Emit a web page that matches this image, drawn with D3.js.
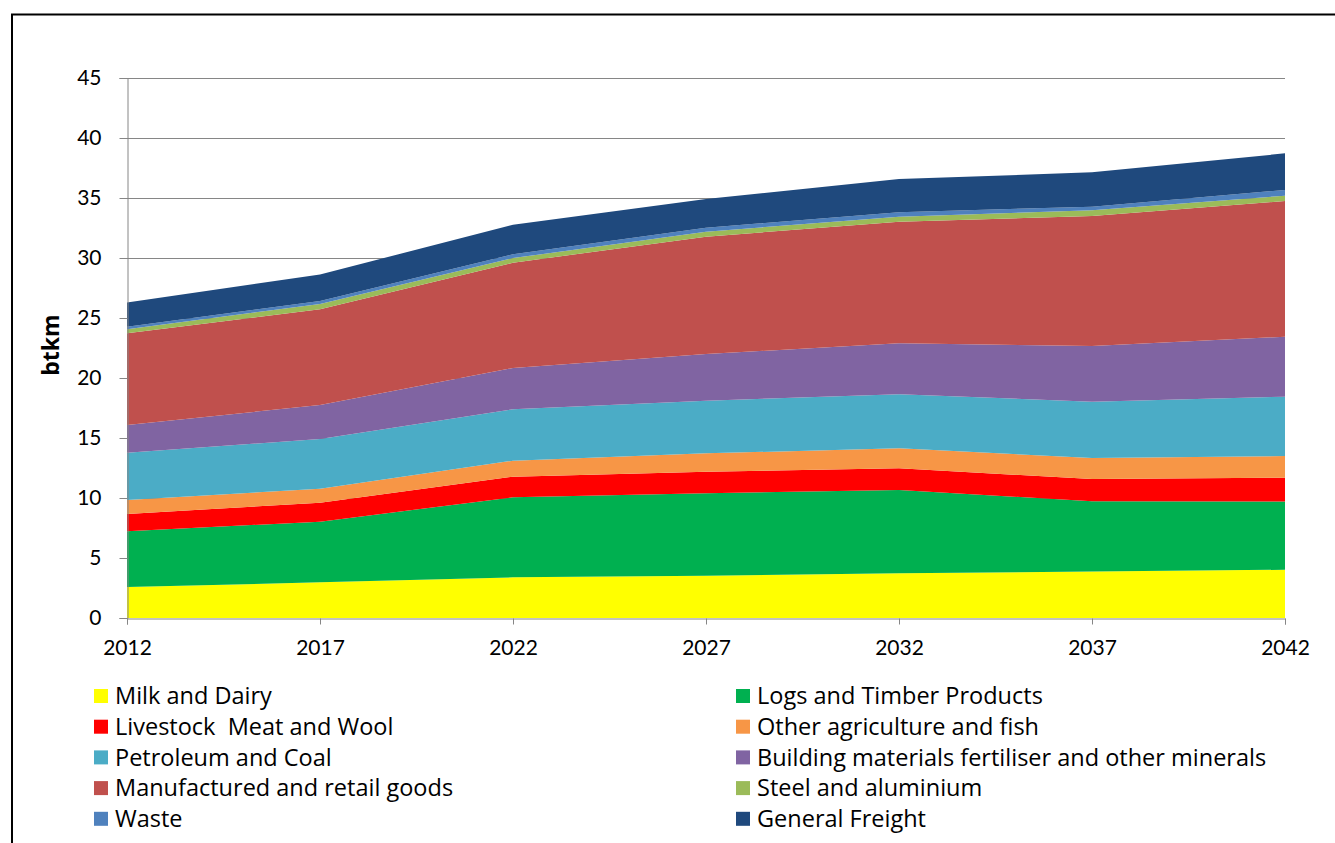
<!DOCTYPE html>
<html>
<head>
<meta charset="utf-8">
<script src="https://cdn.jsdelivr.net/npm/d3@7"></script>
<style>
  html, body { margin: 0; padding: 0; background: #fff; }
  svg { display: block; font-family: Lato, "Open Sans", sans-serif; }
</style>
</head>
<body>
<svg id="chart" width="1335" height="843"></svg>
<script>
// Freight task by commodity, billion tonne-km
const years = [2012, 2017, 2022, 2027, 2032, 2037, 2042];
const yTicks = [0, 5, 10, 15, 20, 25, 30, 35, 40, 45];

const seriesNames = [
  "Milk and Dairy",
  "Logs and Timber Products",
  "Livestock  Meat and Wool",
  "Other agriculture and fish",
  "Petroleum and Coal",
  "Building materials fertiliser and other minerals",
  "Manufactured and retail goods",
  "Steel and aluminium",
  "Waste",
  "General Freight"
];

const milkDairy     = [2.58, 2.97, 3.39, 3.53, 3.72, 3.88, 4.02];
const logsTimber    = [4.64, 5.06, 6.67, 6.86, 6.95, 5.84, 5.69];
const livestock     = [1.45, 1.58, 1.72, 1.80, 1.80, 1.86, 1.98];
const otherAgri     = [1.16, 1.17, 1.33, 1.53, 1.67, 1.75, 1.81];
const petroleumCoal = [3.95, 4.14, 4.28, 4.39, 4.50, 4.70, 4.94];
const buildingMat   = [2.30, 2.83, 3.44, 3.89, 4.25, 4.64, 5.00];
const manufactured  = [7.64, 7.97, 8.78, 9.78, 10.14, 10.83, 11.31];
const steelAlum     = [0.34, 0.45, 0.38, 0.41, 0.41, 0.48, 0.44];
const waste         = [0.22, 0.24, 0.32, 0.34, 0.37, 0.30, 0.48];
const generalFreight= [2.02, 2.21, 2.47, 2.39, 2.77, 2.86, 3.05];

const seriesValues = [milkDairy, logsTimber, livestock, otherAgri, petroleumCoal,
                      buildingMat, manufactured, steelAlum, waste, generalFreight];

const colors = ["#FFFF00", "#00B050", "#FF0000", "#F79646", "#4BACC6",
                "#8064A2", "#C0504D", "#9BBB59", "#4F81BD", "#1F497D"];

// rows for d3.stack
const table = years.map((yr, i) => {
  const row = { year: yr };
  seriesNames.forEach((n, k) => { row[n] = seriesValues[k][i]; });
  return row;
});

const svg = d3.select("#chart");

// outer frame
svg.append("rect")
  .attr("x", 12).attr("y", 14.5)
  .attr("width", 1400).attr("height", 900)
  .attr("fill", "none").attr("stroke", "#000").attr("stroke-width", 2);

const plot = { left: 127, right: 1285, top: 78, bottom: 618 };

const x = d3.scaleLinear().domain([2012, 2042]).range([plot.left, plot.right]);
const y = d3.scaleLinear().domain([0, 45]).range([plot.bottom, plot.top]);

// gridlines
svg.append("g")
  .selectAll("line")
  .data(yTicks.filter(t => t > 0))
  .join("line")
  .attr("x1", plot.left).attr("x2", plot.right)
  .attr("y1", d => Math.round(y(d)) + 0.5).attr("y2", d => Math.round(y(d)) + 0.5)
  .attr("stroke", "#868686").attr("stroke-width", 1);

// stacked areas
const stack = d3.stack().keys(seriesNames);
const layers = stack(table);

const area = d3.area()
  .x(d => x(d.data.year))
  .y0(d => y(d[0]))
  .y1(d => y(d[1]));

svg.append("g")
  .selectAll("path")
  .data(layers)
  .join("path")
  .attr("d", area)
  .attr("fill", (d, i) => colors[i]);

// y axis
const yAxis = d3.axisLeft(y).tickValues(yTicks).tickSize(8).tickPadding(18);
const gy = svg.append("g")
  .attr("transform", `translate(${plot.left + 0.5},0)`)
  .call(yAxis);
gy.select(".domain").attr("stroke", "#868686");
gy.selectAll(".tick line").attr("stroke", "#868686");
gy.selectAll(".tick text")
  .attr("font-size", 21).attr("fill", "#000")
  .attr("font-family", "Lato, sans-serif");

// x axis
const xAxis = d3.axisBottom(x).tickValues(years).tickFormat(d3.format("d")).tickSize(6).tickPadding(16);
const gx = svg.append("g")
  .attr("transform", `translate(0,${plot.bottom + 0.5})`)
  .call(xAxis);
gx.select(".domain").attr("stroke", "#868686");
gx.selectAll(".tick line").attr("stroke", "#868686");
gx.selectAll(".tick text")
  .attr("font-size", 21).attr("fill", "#000")
  .attr("font-family", "Lato, sans-serif");

// y axis title
svg.append("text")
  .attr("transform", `translate(59,${(plot.top + plot.bottom) / 2 - 3}) rotate(-90)`)
  .attr("text-anchor", "middle")
  .attr("font-family", "'Open Sans', sans-serif")
  .attr("font-size", 23).attr("font-weight", "bold")
  .text("btkm");

// legend: two columns, row-major order
const legendCols = [94, 736];
const legendRow0 = 696, legendRowStep = 30.7;
const legend = svg.append("g")
  .selectAll("g")
  .data(seriesNames)
  .join("g")
  .attr("transform", (d, i) =>
    `translate(${legendCols[i % 2]},${legendRow0 + Math.floor(i / 2) * legendRowStep})`);

legend.append("rect")
  .attr("x", 0).attr("y", -7)
  .attr("width", 14).attr("height", 14)
  .attr("fill", (d, i) => colors[i]);

legend.append("text")
  .attr("x", 21).attr("y", 0)
  .attr("dy", "0.35em")
  .attr("font-family", "'Open Sans', sans-serif")
  .attr("font-size", 23.5)
  .attr("fill", "#000")
  .attr("xml:space", "preserve")
  .style("white-space", "pre")
  .text(d => d);
</script>
</body>
</html>
